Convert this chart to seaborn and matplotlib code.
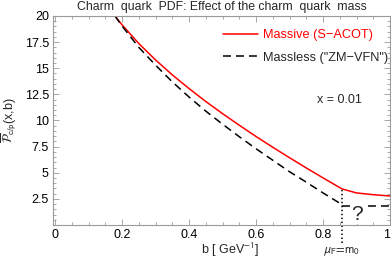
import seaborn as sns
import matplotlib.pyplot as plt
from matplotlib.ticker import MultipleLocator
import pandas as pd

# values
b_massive = [0.179, 0.2, 0.25, 0.3, 0.35, 0.4, 0.45, 0.5, 0.55, 0.6, 0.65, 0.7, 0.75, 0.8, 0.857, 0.9, 0.95, 1.0]
pdf_massive = [20.0, 19.16, 17.37, 15.80, 14.37, 13.06, 11.82, 10.66, 9.55, 8.47, 7.44, 6.44, 5.46, 4.51, 3.45, 3.07, 2.90, 2.78]

b_massless = [0.179, 0.2, 0.25, 0.3, 0.35, 0.4, 0.45, 0.5, 0.55, 0.6, 0.65, 0.7, 0.75, 0.8, 0.857]
pdf_massless = [20.0, 19.05, 17.0, 15.3, 13.7, 12.25, 10.9, 9.65, 8.45, 7.3, 6.2, 5.1, 4.1, 3.07, 1.95]

b_unknown = [0.857, 1.0]
pdf_unknown = [1.8, 1.8]

b_mu_f = 0.857
x_value = "x = 0.01"

sns.set_style("ticks")
plt.rcParams['font.family'] = ['Liberation Sans', 'DejaVu Sans']
plt.rcParams['mathtext.fontset'] = 'stixsans'

massive = pd.DataFrame({"b": b_massive, "pdf": pdf_massive})
massless = pd.DataFrame({"b": b_massless, "pdf": pdf_massless})
unknown = pd.DataFrame({"b": b_unknown, "pdf": pdf_unknown})

fig = plt.figure(figsize=(3.91, 2.58), dpi=100)
ax = fig.add_axes([53 / 391, 1 - 225 / 258, 337 / 391, 209 / 258])

dash = (5.2, 3.3)
sns.lineplot(ax=ax, data=massive, x="b", y="pdf", color="#ff0000", lw=1.1,
             label="Massive (S\u2212ACOT)", sort=False)
sns.lineplot(ax=ax, data=massless, x="b", y="pdf", color="black", lw=1.1,
             label="Massless (\"ZM\u2212VFN\")", sort=False)
ax.lines[-1].set_dashes(dash)
sns.lineplot(ax=ax, data=unknown, x="b", y="pdf", color="black", lw=1.1, sort=False)
ax.lines[-1].set_dashes(dash)

# vertical dotted marker at mu_F = m0
kink = pdf_massive[b_massive.index(b_mu_f)]
ax.axvline(b_mu_f, ymin=-0.085, ymax=kink / 20, color="black", lw=1.1,
           ls=(0, (1, 1.6)), clip_on=False)

ax.text(0.901, 1.05, "?", fontsize=15, ha="center", va="center",
        bbox=dict(facecolor="white", edgecolor="none", pad=0.5))
ax.text(b_mu_f, -0.125, r"$\mu_{\mathrm{F}}\!=\!\mathrm{m}_0$", transform=ax.get_xaxis_transform(),
        ha="center", va="center", fontsize=9)
ax.text(0.783, 0.598, x_value, transform=ax.transAxes, fontsize=9, va="center")

ax.set_xlim(-0.006, 1.0)
ax.set_ylim(0, 20)
ax.xaxis.set_major_locator(MultipleLocator(0.2))
ax.xaxis.set_minor_locator(MultipleLocator(0.05))
ax.yaxis.set_major_locator(MultipleLocator(2.5))
ax.yaxis.set_minor_locator(MultipleLocator(0.5))
ax.set_yticks([2.5, 5, 7.5, 10, 12.5, 15, 17.5, 20])
ax.set_xticks([0, 0.2, 0.4, 0.6, 0.8, 1.0])
ax.set_xticklabels(["0", "0.2", "0.4", "0.6", "0.8", "1"])
ax.set_yticklabels(["2.5", "5", "7.5", "10", "12.5", "15", "17.5", "20"])
ax.get_xticklabels()[-1].set_horizontalalignment("right")

gray = "#9a9a9a"
for s in ax.spines.values():
    s.set_color(gray)
    s.set_linewidth(0.8)
ax.tick_params(which="both", direction="in", top=True, right=True, colors=gray,
               labelcolor="black", labelsize=9, width=0.6)
ax.tick_params(which="major", length=4, pad=3)
ax.tick_params(which="minor", length=2)

ax.set_xlabel("b [ GeV$^{-1}$]", fontsize=9)
ax.xaxis.set_label_coords(0.525, -0.075)
ax.set_ylabel(r"$\overline{\mathcal{P}}_{\mathrm{c/p}}$(x,b)", fontsize=9)
ax.yaxis.set_label_coords(-0.1, 0.5)
ax.set_title("Charm  quark  PDF: Effect of the charm  quark  mass", fontsize=8.8, pad=4)

leg = ax.legend(loc="upper left", bbox_to_anchor=(0.49, 0.962), frameon=False, fontsize=9.2,
                handlelength=2.75, handletextpad=0.4, labelspacing=0.85, borderaxespad=0)
leg.get_texts()[0].set_color("#ff0000")
for h in leg.get_lines():
    h.set_linewidth(1.1)
leg.get_lines()[1].set_dashes(dash)

fig.savefig("out.png", dpi=100)
